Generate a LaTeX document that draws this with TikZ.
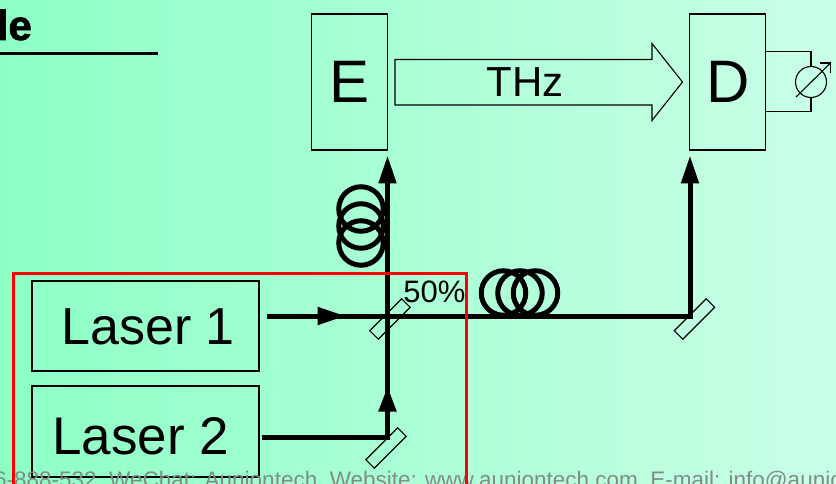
\documentclass[tikz,border=0pt]{standalone}
\usepackage{fontspec}
\usepackage{xcolor}
\setmainfont[BoldFeatures={FakeBold=1.6}]{Liberation Sans}
\usetikzlibrary{calc, positioning, arrows.meta}
\definecolor{bgleft}{RGB}{141,255,197}
\definecolor{bgright}{RGB}{201,255,231}
\definecolor{footgrey}{RGB}{130,140,135}
\newcommand{\fsz}[1]{\fontsize{#1}{#1}\selectfont}

\begin{document}
\begin{tikzpicture}[x=1pt,y=-1pt,
                    main node/.style={rectangle,draw,line width=1.1pt,inner sep=0pt,font=\fsz{60}},
                    laser node/.style={main node,minimum width=227pt},
                    mirror/.style={rectangle,draw,line width=1.1pt,rotate=45,minimum width=45pt,minimum height=12pt,inner sep=0pt},
                    coil/.style={circle,draw,line width=5pt,minimum size=44.5pt,inner sep=0pt,outer sep=0pt},
                    beam/.style={line width=5pt},
                    thin line/.style={line width=1.1pt},
                    bigtip/.style={-{Triangle[length=28pt,width=17pt]}}]

  \useasboundingbox (0,0) rectangle (836,484);
  \clip (0,0) rectangle (836,484);
  \shade[left color=bgleft,right color=bgright] (0,0) rectangle (836,484);

  \node[main node,minimum width=76pt,minimum height=136pt] (E) at (349.5,82) {E};
  \node[main node,minimum width=76pt,minimum height=136pt] (D) at (727.75,82) {D};
  \node[laser node,minimum height=90pt] (Laser1) at (145.5,326) {};
  \node[laser node,minimum height=91pt] (Laser2) at (145.5,431.5) {};
  \node[font=\fsz{52}] (Text1) at (148,327) {Laser 1};
  \node[font=\fsz{53}] (Text2) at (140.5,436) {Laser 2};

  % thz arrow
  \draw[thin line] (395,59.5) -- (652,59.5) -- (652,43.5) -- (682.5,82) -- (652,120.5) -- (652,105) -- (395,105) -- cycle;
  \node[font=\fsz{42}] (THz) at (525,82) {THz};

  % meter
  \node[circle,draw,line width=1.1pt,minimum size=31pt,inner sep=0pt] (M) at (811,82) {};
  \draw[thin line] ($(D.north east)+(0,38)$) -| (M.north);
  \draw[thin line] ($(D.north east)+(0,98.5)$) -| (M.south);
  \coordinate (Mtip) at (830.5,63);
  \draw[thin line] (796,97) -- (Mtip);
  \draw[thin line] (819.5,63) -- (Mtip) -- (830.5,73);

  \node[mirror] (BS) at (390,319) {};
  \node[mirror] (M2) at (386,448) {};
  \node[mirror] (M3) at (694.5,319) {};

  \coordinate (P1) at (267,316);
  \coordinate (P2) at (345.5,316);
  \coordinate (P3) at (690,316);
  \coordinate (P4) at (262,437.5);
  \coordinate (P5) at (387.5,437.5);
  \coordinate (P6) at (387.5,386.5);
  \coordinate (P7) at (387.5,155.5);
  \coordinate (P8) at (690,155.5);

  \draw[beam] (P1) -- (P3) -- ($(P3)+(0,-140)$);
  \draw[beam,bigtip] (P1) -- (P2);
  \draw[beam,bigtip] (P3) -- (P8);
  \draw[beam] (P4) -- (P5) -- ($(P5)+(0,-100)$);
  \draw[beam,-{Triangle[length=25pt,width=17pt]}] (P5) -- (P6);
  \draw[beam,bigtip] (P5) -- (P7);

  \node[coil] (C1) at (361,209) {};
  \node[coil] (C2) at (361,226) {};
  \node[coil] (C3) at (361,243) {};
  \node[coil] (C4) at (503.5,293) {};
  \node[coil] (C5) at (520,293) {};
  \node[coil] (C6) at (535.5,293) {};

  \node[font=\fsz{31}] (Split) at (434.5,291.5) {50\%};

  % title
  \node[anchor=base east,inner sep=0pt,font=\fsz{42}\bfseries] (Title) at (32,40) {le};
  \draw[line width=3pt] (Title.south west |- 0,53.5) -- (158,53.5);

  \node[anchor=base west,inner sep=0pt,text=footgrey,font=\fsz{22.5}] (Foot) at (-6,487) {6-888-532, WeChat: Auniontech, Website: www.auniontech.com, E-mail: info@auniontech.com};

  \draw[red,line width=3pt] (13.7,492) -- (13.7,273.5) -- (466.3,273.5) -- (466.3,492);
\end{tikzpicture}
\end{document}
